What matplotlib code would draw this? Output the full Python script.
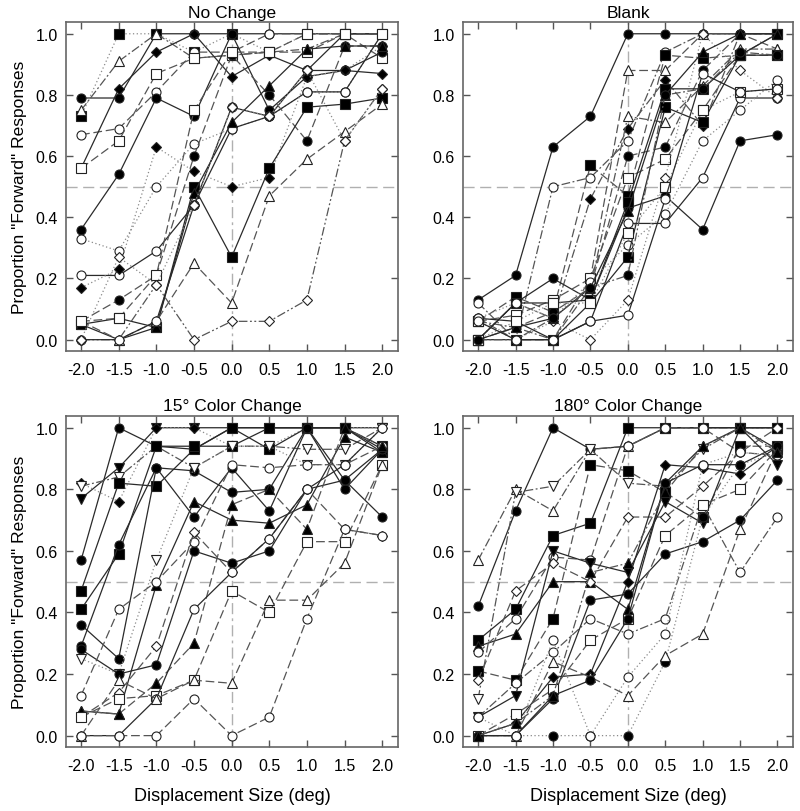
import matplotlib
matplotlib.use("Agg")
import matplotlib.pyplot as plt
import numpy as np

plt.rcParams['font.family'] = ['Liberation Sans', 'DejaVu Sans']

displacement = [-2.0, -1.5, -1.0, -0.5, 0.0, 0.5, 1.0, 1.5, 2.0]
tick_labels = ['-2.0', '-1.5', '-1.0', '-0.5', '0.0', '0.5', '1.0', '1.5', '2.0']
titles = ['No Change', 'Blank', '15° Color Change', '180° Color Change']

# each subject: (marker, filled, line style, proportions at each displacement)
no_change = [
    ('o', True, '-', [0.79, 0.79, 1.00, 1.00, 1.00, 1.00, 1.00, 1.00, 1.00]),
    ('s', True, ':', [0.73, 1.00, 1.00, 0.94, 1.00, 0.94, 1.00, 1.00, 1.00]),
    ('^', False, '-.', [0.75, 0.91, 1.00, 0.92, 0.93, 0.94, 0.95, 1.00, 1.00]),
    ('o', False, '--', [0.67, 0.69, 0.81, 0.94, 0.94, 1.00, 1.00, 1.00, 1.00]),
    ('D', True, '-', [0.56, 0.82, 0.94, 1.00, 0.86, 0.93, 0.88, 0.88, 0.87]),
    ('s', False, '--', [0.56, 0.65, 0.87, 0.92, 0.93, 0.94, 0.94, 1.00, 0.92]),
    ('o', True, '-', [0.36, 0.54, 0.79, 0.73, 1.00, 0.75, 0.86, 0.88, 0.94]),
    ('o', False, ':', [0.33, 0.29, 0.50, 0.64, 0.69, 0.73, 0.81, 0.81, 1.00]),
    ('o', False, '-', [0.21, 0.21, 0.29, 0.44, 0.69, 0.73, 0.81, 0.81, 1.00]),
    ('D', True, ':', [0.17, 0.23, 0.63, 0.55, 0.50, 0.53, 0.86, 0.88, 0.96]),
    ('o', True, '--', [0.06, 0.13, 0.21, 0.60, 0.93, 0.80, 0.65, 0.96, 0.96]),
    ('s', True, '-', [0.05, 0.07, 0.04, 0.50, 0.27, 0.56, 0.76, 0.77, 0.79]),
    ('^', True, '-', [0.05, 0.00, 0.04, 0.48, 0.71, 0.83, 0.95, 0.96, 0.96]),
    ('^', False, '--', [0.06, 0.00, 0.06, 0.25, 0.12, 0.47, 0.59, 0.68, 0.77]),
    ('D', False, 'dd', [0.00, 0.00, 0.18, 0.00, 0.06, 0.06, 0.13, 0.65, 0.82]),
    ('o', False, '-', [0.00, 0.00, 0.06, 0.44, 0.76, 0.73, 0.88, 1.00, 1.00]),
    ('s', False, '--', [0.06, 0.07, 0.21, 0.75, 0.94, 0.94, 1.00, 1.00, 1.00]),
    ('D', False, ':', [0.00, 0.27, 0.18, 0.44, 0.76, 0.73, 0.88, 0.65, 0.82]),
]

blank = [
    ('o', True, '-', [0.13, 0.21, 0.63, 0.73, 1.00, 1.00, 1.00, 1.00, 1.00]),
    ('o', False, '-.', [0.12, 0.00, 0.50, 0.53, 0.65, 0.94, 1.00, 1.00, 1.00]),
    ('s', True, '--', [0.06, 0.14, 0.09, 0.57, 0.47, 0.93, 0.92, 0.93, 0.93]),
    ('^', False, '--', [0.07, 0.00, 0.00, 0.20, 0.88, 0.88, 1.00, 1.00, 0.95]),
    ('D', True, '-.', [0.00, 0.12, 0.07, 0.46, 0.69, 0.85, 0.70, 1.00, 1.00]),
    ('^', False, '-.', [0.06, 0.04, 0.00, 0.17, 0.73, 0.71, 0.83, 0.95, 0.95]),
    ('o', True, '-', [0.00, 0.12, 0.20, 0.13, 0.43, 0.47, 0.36, 0.65, 0.67]),
    ('s', False, '--', [0.06, 0.08, 0.13, 0.20, 0.53, 0.59, 0.75, 0.93, 1.00]),
    ('o', True, '--', [0.00, 0.04, 0.09, 0.17, 0.60, 0.63, 0.88, 1.00, 1.00]),
    ('s', True, '-', [0.00, 0.12, 0.12, 0.13, 0.45, 0.82, 0.82, 0.93, 1.00]),
    ('o', False, '-', [0.07, 0.06, 0.00, 0.06, 0.38, 0.38, 0.53, 0.79, 0.79]),
    ('D', False, ':', [0.06, 0.00, 0.06, 0.00, 0.13, 0.53, 1.00, 0.88, 0.79]),
    ('o', False, ':', [0.07, 0.12, 0.07, 0.19, 0.31, 0.41, 0.65, 0.75, 0.85]),
    ('^', True, '-', [0.00, 0.04, 0.07, 0.17, 0.42, 0.80, 0.94, 1.00, 1.00]),
    ('s', True, '-', [0.00, 0.00, 0.00, 0.12, 0.27, 0.76, 0.71, 0.93, 0.93]),
    ('s', False, ':', [0.00, 0.06, 0.12, 0.12, 0.35, 0.50, 0.75, 0.81, 0.82]),
    ('o', True, '-.', [0.00, 0.00, 0.07, 0.17, 0.21, 0.80, 0.82, 0.94, 0.93]),
    ('o', False, '-', [0.06, 0.00, 0.00, 0.06, 0.08, 0.46, 0.87, 0.81, 0.82]),
]

color15 = [
    ('o', True, '-', [0.57, 1.00, 0.94, 0.93, 1.00, 1.00, 1.00, 1.00, 0.93]),
    ('v', True, '-', [0.77, 0.87, 1.00, 1.00, 1.00, 1.00, 1.00, 1.00, 1.00]),
    ('D', True, ':', [0.82, 0.76, 1.00, 1.00, 0.94, 0.94, 1.00, 1.00, 1.00]),
    ('v', False, '-.', [0.81, 0.84, 0.94, 0.87, 0.94, 0.94, 0.93, 0.93, 1.00]),
    ('s', True, '-', [0.47, 0.82, 0.81, 0.93, 1.00, 0.93, 1.00, 1.00, 0.92]),
    ('s', True, '-', [0.41, 0.59, 0.94, 0.94, 0.94, 1.00, 1.00, 1.00, 0.94]),
    ('o', True, '-', [0.36, 0.25, 0.87, 0.86, 0.79, 0.80, 1.00, 0.83, 0.71]),
    ('o', True, '-', [0.29, 0.62, 0.87, 0.71, 0.87, 0.73, 1.00, 0.80, 0.93]),
    ('v', False, ':', [0.25, 0.20, 0.57, 0.87, 0.94, 0.94, 0.88, 0.88, 1.00]),
    ('^', True, '-', [0.08, 0.07, 0.49, 0.76, 0.70, 0.69, 0.75, 0.97, 0.92]),
    ('o', True, '-', [0.28, 0.20, 0.23, 0.60, 0.56, 0.60, 0.80, 0.83, 0.93]),
    ('o', False, '--', [0.13, 0.41, 0.50, 0.63, 0.88, 0.87, 0.88, 0.88, 0.94]),
    ('D', False, '--', [0.06, 0.14, 0.29, 0.66, 0.53, 0.64, 0.80, 0.67, 0.65]),
    ('^', True, '--', [0.08, 0.07, 0.17, 0.30, 0.75, 0.80, 0.67, 1.00, 0.94]),
    ('s', False, '--', [0.06, 0.12, 0.13, 0.18, 0.47, 0.40, 0.63, 0.63, 0.88]),
    ('o', False, '-', [0.00, 0.00, 0.12, 0.41, 0.53, 0.64, 0.80, 0.88, 1.00]),
    ('^', False, '--', [0.00, 0.18, 0.12, 0.18, 0.17, 0.44, 0.44, 0.56, 0.88]),
    ('o', False, '--', [0.00, 0.00, 0.00, 0.12, 0.00, 0.06, 0.38, 0.67, 0.65]),
]

color180 = [
    ('o', True, '-', [0.42, 0.73, 1.00, 0.93, 0.94, 1.00, 1.00, 1.00, 1.00]),
    ('^', False, '-.', [0.57, 0.80, 0.73, 0.93, 0.94, 1.00, 1.00, 1.00, 1.00]),
    ('v', False, '-.', [0.12, 0.79, 0.81, 0.93, 0.82, 0.81, 0.93, 1.00, 1.00]),
    ('s', True, '-', [0.31, 0.41, 0.65, 0.69, 1.00, 1.00, 1.00, 1.00, 1.00]),
    ('^', True, '-', [0.29, 0.33, 0.50, 0.50, 0.41, 0.82, 0.94, 1.00, 0.93]),
    ('o', False, '--', [0.27, 0.38, 0.58, 0.57, 0.94, 1.00, 1.00, 0.92, 0.91]),
    ('s', True, '--', [0.21, 0.18, 0.38, 0.88, 0.86, 0.79, 0.71, 0.94, 0.94]),
    ('D', False, '--', [0.18, 0.47, 0.56, 0.50, 0.71, 0.71, 0.81, 0.92, 1.00]),
    ('v', True, '-', [0.06, 0.13, 0.60, 0.56, 0.53, 0.76, 0.69, 1.00, 0.88]),
    ('o', False, '-.', [0.06, 0.17, 0.27, 0.38, 0.33, 0.38, 0.75, 0.53, 0.71]),
    ('o', True, '-', [0.00, 0.00, 0.12, 0.44, 0.46, 0.59, 0.63, 0.70, 0.83]),
    ('D', True, '-', [0.00, 0.04, 0.19, 0.20, 0.50, 0.88, 0.87, 0.85, 0.94]),
    ('s', False, '--', [0.00, 0.07, 0.15, 0.31, 0.38, 0.65, 0.75, 0.80, 0.93]),
    ('o', True, ':', [0.00, 0.00, 0.00, 0.00, 0.00, 0.24, 0.71, 0.88, 0.92]),
    ('^', False, '--', [0.00, 0.00, 0.24, 0.19, 0.13, 0.26, 0.33, 0.67, 0.93]),
    ('o', True, '-', [0.00, 0.00, 0.13, 0.18, 0.38, 0.82, 0.88, 0.88, 0.94]),
    ('o', False, ':', [0.06, 0.00, 0.31, 0.00, 0.19, 0.33, 0.88, 0.92, 0.91]),
    ('^', True, '-.', [0.00, 0.04, 0.13, 0.53, 0.56, 0.79, 0.94, 1.00, 0.92]),
]

panels = [no_change, blank, color15, color180]

line_styles = {'-': ('-', '#2a2a2a'), '--': ((0, (7, 3)), '#555555'),
               ':': ((0, (1, 2)), '#8a8a8a'), '-.': ((0, (7, 2, 1.5, 2)), '#555555'),
               'dd': ((0, (7, 2, 1.5, 2, 1.5, 2)), '#555555')}

fig = plt.figure(figsize=(8, 8.12), dpi=100)
positions = [[0.0825, 0.5665, 0.415, 0.405], [0.579, 0.5665, 0.4125, 0.405],
             [0.0825, 0.0788, 0.415, 0.4076], [0.579, 0.0788, 0.4125, 0.4076]]

for i, subjects in enumerate(panels):
    ax = fig.add_axes(positions[i])
    ax.axhline(0.5, color='#b0b0b0', lw=1.0, ls=(0, (8, 4)), zorder=1)
    ax.axvline(0.0, color='#b0b0b0', lw=1.0, ls=(0, (8, 3, 2, 3)), zorder=1)
    for marker, filled, ls, vals in subjects:
        style, col = line_styles[ls]
        face = '#000000' if filled else 'white'
        ax.plot(displacement, vals, ls=style, color=col, lw=0.9,
                marker=marker, ms=6.5 if marker != 'D' else 5.6,
                mfc=face, mec='#222222', mew=0.8, zorder=3)
    ax.set_xlim(-2.2, 2.21)
    ax.set_ylim(-0.037, 1.038)
    ax.set_xticks(displacement)
    ax.set_xticklabels(tick_labels)
    ax.set_yticks([0.0, 0.2, 0.4, 0.6, 0.8, 1.0])
    ax.set_yticklabels(['0.0', '0.2', '0.4', '0.6', '0.8', '1.0'])
    ax.tick_params(direction='in', top=True, right=True, length=5, width=1,
                   color='#555555', labelsize=11.5)
    ax.tick_params(axis='x', pad=8)
    ax.tick_params(axis='y', pad=6)
    for sp in ax.spines.values():
        sp.set_color('#666666')
        sp.set_linewidth(1.2)
    ax.set_title(titles[i], fontsize=12.5, pad=4)
    if i % 2 == 0:
        ax.set_ylabel('Proportion "Forward" Responses', fontsize=12.5, labelpad=6)
    if i >= 2:
        ax.set_xlabel('Displacement Size (deg)', fontsize=13, labelpad=10)

fig.savefig('out.png', dpi=100)
